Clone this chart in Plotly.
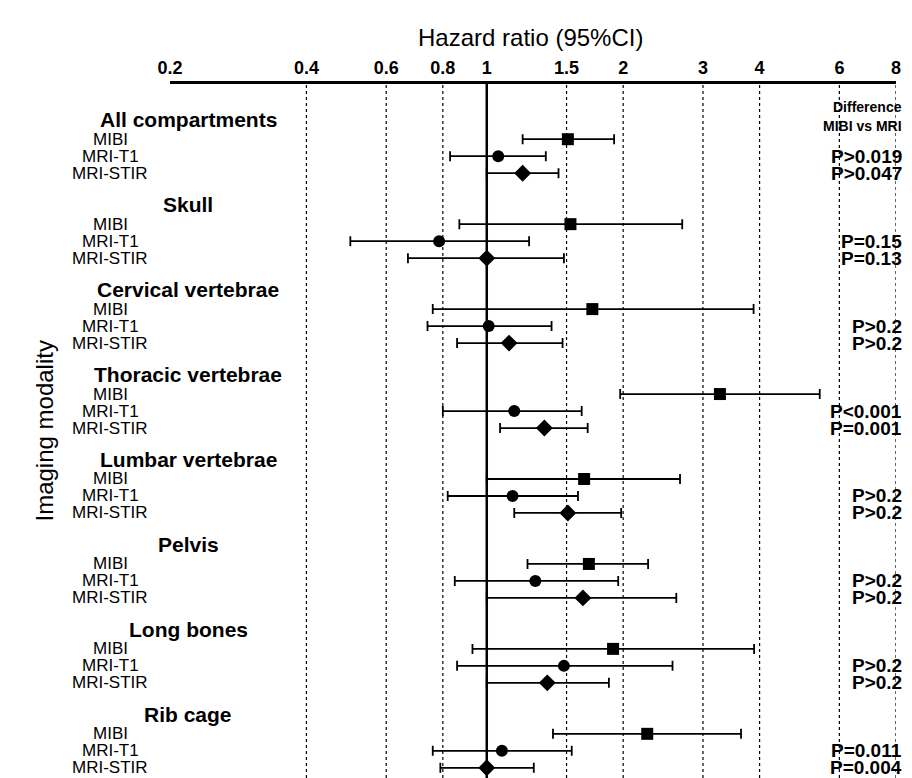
import plotly.graph_objects as go

groups = ["All compartments", "Skull", "Cervical vertebrae", "Thoracic vertebrae",
          "Lumbar vertebrae", "Pelvis", "Long bones", "Rib cage"]
modalities = ["MIBI", "MRI-T1", "MRI-STIR"]

mibi_hr = [1.51, 1.53, 1.71, 3.27, 1.64, 1.68, 1.90, 2.26]
mibi_lo = [1.20, 0.87, 0.76, 1.97, 1.00, 1.23, 0.93, 1.40]
mibi_hi = [1.91, 2.70, 3.88, 5.43, 2.67, 2.27, 3.89, 3.64]

t1_hr = [1.06, 0.785, 1.01, 1.15, 1.14, 1.28, 1.48, 1.08]
t1_lo = [0.83, 0.50, 0.74, 0.80, 0.82, 0.85, 0.86, 0.76]
t1_hi = [1.35, 1.24, 1.39, 1.62, 1.59, 1.95, 2.57, 1.54]

stir_hr = [1.20, 1.00, 1.12, 1.34, 1.51, 1.63, 1.36, 1.00]
stir_lo = [1.00, 0.67, 0.86, 1.07, 1.15, 1.00, 1.00, 0.79]
stir_hi = [1.44, 1.48, 1.47, 1.67, 1.98, 2.62, 1.86, 1.27]

p_t1 = ["P>0.019", "P=0.15", "P>0.2", "P<0.001", "P>0.2", "P>0.2", "P>0.2", "P=0.011"]
p_stir = ["P>0.047", "P=0.13", "P>0.2", "P=0.001", "P>0.2", "P>0.2", "P>0.2", "P=0.004"]

tick_vals = [0.2, 0.4, 0.6, 0.8, 1, 1.5, 2, 3, 4, 6, 8]

FONT = "Liberation Sans"
OFF = 8  # page body margin
L, W = 170 - OFF, 726


def px(x):
    # screen pixel -> paper x
    return (x - OFF - L) / W


fig = go.Figure()
series = [
    (mibi_hr, mibi_lo, mibi_hi, "square", 0),
    (t1_hr, t1_lo, t1_hi, "circle", 1),
    (stir_hr, stir_lo, stir_hi, "diamond", 2),
]
for hr, lo, hi, sym, k in series:
    ys = [5 * g + 1.15 + k for g in range(len(groups))]
    fig.add_trace(go.Scatter(
        x=hr, y=ys, mode="markers",
        marker=dict(symbol=sym, size=13 if sym == "diamond" else 12, color="black"),
        error_x=dict(type="data", symmetric=False,
                     array=[h - v for h, v in zip(hi, hr)],
                     arrayminus=[v - l for v, l in zip(hr, lo)],
                     color="black", thickness=1.8, width=5),
        showlegend=False,
    ))

ann = []
for g, name in enumerate(groups):
    y0 = 5 * g
    ann.append(dict(x=px(188), y=y0, xref="paper", yref="y", text="<b>" + name + "</b>",
                    showarrow=False, xanchor="center", font=dict(size=21)))
    for k, m in enumerate(modalities):
        ann.append(dict(x=px(110), y=y0 + 1.15 + k, xref="paper", yref="y", text=m,
                        showarrow=False, xanchor="center", font=dict(size=17)))
    ann.append(dict(x=px(904), y=y0 + 2.15, xref="paper", yref="y", text="<b>" + p_t1[g] + "</b>",
                    showarrow=False, xanchor="right", font=dict(size=19)))
    ann.append(dict(x=px(904), y=y0 + 3.15, xref="paper", yref="y", text="<b>" + p_stir[g] + "</b>",
                    showarrow=False, xanchor="right", font=dict(size=19)))

ann.append(dict(x=px(904), y=-0.75, xref="paper", yref="y", text="<b>Difference</b>",
                showarrow=False, xanchor="right", font=dict(size=14)))
ann.append(dict(x=px(904), y=0.4, xref="paper", yref="y", text="<b>MIBI vs MRI</b>",
                showarrow=False, xanchor="right", font=dict(size=14)))
ann.append(dict(x=px(530), y=1.0, xref="paper", yref="paper", yshift=62,
                text="Hazard ratio (95%CI)", showarrow=False, font=dict(size=24)))
ann.append(dict(x=px(28), y=0.5, xref="paper", yref="paper", text="Imaging modality",
                textangle=-90, showarrow=False, font=dict(size=24)))

shapes = []
for t in tick_vals[1:]:
    if t == 1:
        continue
    shapes.append(dict(type="line", xref="x", yref="paper", x0=t, x1=t, y0=0, y1=1,
                       line=dict(color="black", width=1.2, dash="dot")))
shapes.append(dict(type="line", xref="x", yref="paper", x0=1, x1=1, y0=0, y1=1,
                   line=dict(color="black", width=2.5)))

fig.update_layout(
    width=912, height=778,
    margin=dict(l=L, r=912 - L - W, t=76, b=8),
    plot_bgcolor="white", paper_bgcolor="white",
    font=dict(family=FONT, color="black"),
    annotations=ann, shapes=shapes,
    xaxis=dict(type="log", range=[-0.699, 0.9031], side="top",
               tickvals=tick_vals, ticktext=["<b>%g</b>" % t for t in tick_vals],
               tickfont=dict(size=18),
               showgrid=False, showline=True, linecolor="black", linewidth=3,
               ticks="outside", ticklen=0, zeroline=False),
    yaxis=dict(range=[38.75, -2.1], visible=False),
)

fig.write_html("out.html")
